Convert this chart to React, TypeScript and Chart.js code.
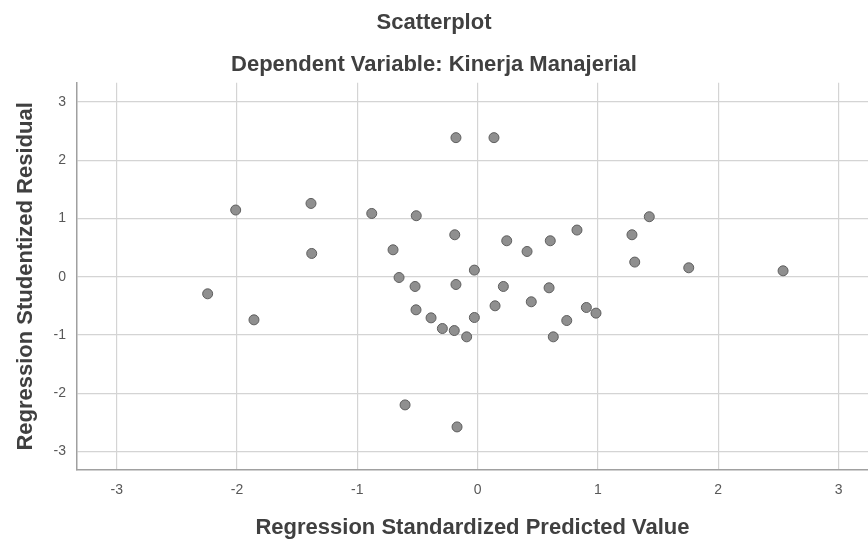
import { useEffect, useRef } from 'react';
import { Chart, registerables } from 'chart.js';

Chart.register(...registerables);

const chartTitle = 'Scatterplot';
const chartSubtitle = 'Dependent Variable: Kinerja Manajerial';
const xAxisTitle = 'Regression Standardized Predicted Value';
const yAxisTitle = 'Regression Studentized Residual';

const tickValues = [-3, -2, -1, 0, 1, 2, 3];

const predictedValues = [
  -2.244, -2.011, -1.859, -1.385, -1.379, -0.88, -0.703, -0.653, -0.51, -0.52,
  -0.512, -0.387, -0.293, -0.194, -0.18, -0.19, -0.18, -0.091, -0.027, -0.027,
  0.136, 0.145, 0.214, 0.242, 0.411, 0.446, 0.594, 0.604, 0.629, 0.741,
  0.826, 0.904, 0.984, 1.283, 1.306, 1.427, 1.755, 2.539, -0.603, -0.171,
];

const studentizedResiduals = [
  -0.294, 1.145, -0.741, 1.258, 0.399, 1.086, 0.462, -0.014, 1.047, -0.168,
  -0.569, -0.707, -0.89, -0.925, 2.388, 0.72, -0.134, -1.033, -0.701, 0.113,
  2.388, -0.5, -0.168, 0.617, 0.433, -0.431, -0.191, 0.617, -1.033, -0.753,
  0.801, -0.529, -0.626, 0.72, 0.251, 1.03, 0.153, 0.101, -2.202, -2.58,
];

const FONT = "'Liberation Sans', Arial, sans-serif";
const TITLE_COLOR = '#404040';
const TICK_COLOR = '#585858';

export default function App() {
  const ref = useRef<HTMLCanvasElement>(null);

  useEffect(() => {
    if (!ref.current) return;
    Chart.defaults.font.family = FONT;
    const chart = new Chart(ref.current, {
      type: 'scatter',
      data: {
        datasets: [
          {
            data: predictedValues.map((x, i) => ({ x, y: studentizedResiduals[i] })),
            backgroundColor: '#8f8f8f',
            borderColor: '#5e5e5e',
            borderWidth: 1,
            pointRadius: 5,
            pointHoverRadius: 5,
          },
        ],
      },
      options: {
        animation: false,
        responsive: false,
        layout: { padding: 0, autoPadding: false },
        plugins: {
          legend: { display: false },
          tooltip: { enabled: false },
          title: {
            display: true,
            text: chartTitle,
            color: TITLE_COLOR,
            font: { family: FONT, size: 22, weight: 'bold' },
            padding: { top: 10, bottom: 8 },
          },
          subtitle: {
            display: true,
            text: chartSubtitle,
            color: TITLE_COLOR,
            font: { family: FONT, size: 22, weight: 'bold' },
            padding: { top: 7, bottom: 5 },
          },
        },
        scales: {
          x: {
            type: 'linear',
            min: -3.33,
            max: 3.245,
            afterBuildTicks: (scale: any) => {
              scale.ticks = tickValues.map((v) => ({ value: v }));
            },
            afterFit: (scale: any) => {
              scale.height = 73;
            },
            grid: { color: '#d4d4d4', lineWidth: 1.2, drawTicks: false },
            border: { color: '#a0a0a0', width: 1.5 },
            ticks: { padding: 12, color: TICK_COLOR, font: { family: FONT, size: 14 } },
            title: {
              display: true,
              text: xAxisTitle,
              color: TITLE_COLOR,
              font: { family: FONT, size: 22, weight: 'bold' },
              padding: { top: 0, bottom: 2 },
            },
          },
          y: {
            type: 'linear',
            min: -3.32,
            max: 3.33,
            afterBuildTicks: (scale: any) => {
              scale.ticks = tickValues.map((v) => ({ value: v }));
            },
            afterFit: (scale: any) => {
              scale.width = 77;
            },
            grid: { color: '#d4d4d4', lineWidth: 1.2, drawTicks: false },
            border: { color: '#a0a0a0', width: 1.5 },
            ticks: { padding: 11, color: TICK_COLOR, font: { family: FONT, size: 14 } },
            title: {
              display: true,
              text: yAxisTitle,
              color: TITLE_COLOR,
              font: { family: FONT, size: 22, weight: 'bold' },
              padding: { top: 13, bottom: 0 },
            },
          },
        },
      },
    });
    return () => chart.destroy();
  }, []);

  return (
    <div style={{ position: 'absolute', left: 0, top: 0, width: 868, height: 543, background: '#fff', overflow: 'hidden' }}>
      <canvas ref={ref} width={868} height={543} />
    </div>
  );
}
